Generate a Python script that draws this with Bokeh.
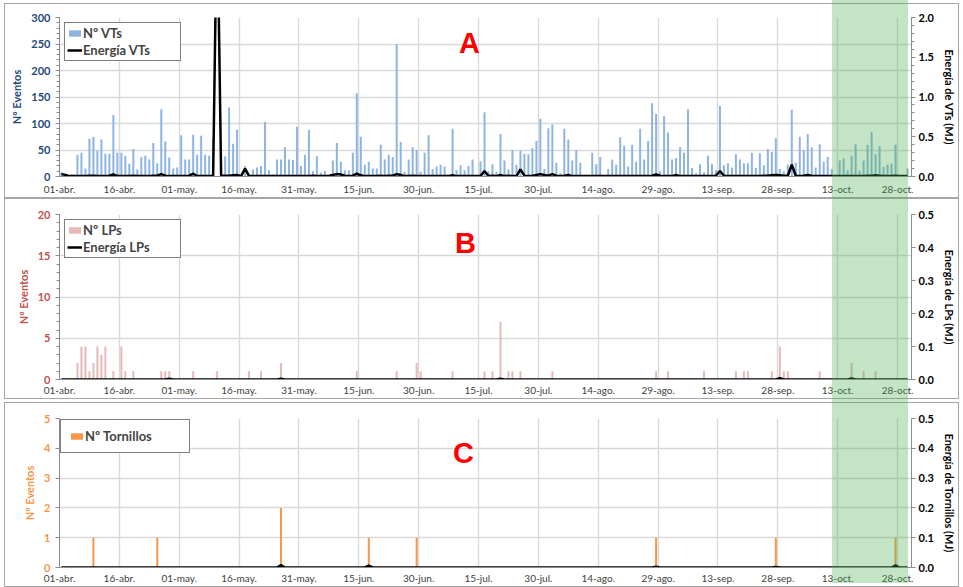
from bokeh.plotting import figure
from bokeh.models import (Range1d, LinearAxis, FixedTicker, Legend, LegendItem,
                          Label, PrintfTickFormatter, Div)
from bokeh.layouts import column
from bokeh.embed import file_html
from bokeh.resources import INLINE

# ---------------- data ----------------
tick_day = [0, 15, 30, 45, 60, 75, 90, 105, 120, 135, 150, 165, 180, 195, 210]
tick_label = ["01-abr.", "16-abr.", "01-may.", "16-may.", "31-may.", "15-jun.", "30-jun.",
              "15-jul.", "30-jul.", "14-ago.", "29-ago.", "13-sep.", "28-sep.", "13-oct.", "28-oct."]

# daily number of VT events, from 01-abr
vt_count = [
    8, 0, 0, 4, 41, 45, 15, 71, 75, 49,
    70, 43, 43, 116, 45, 45, 39, 24, 52, 13,
    37, 39, 32, 63, 25, 127, 66, 36, 15, 17,
    78, 32, 32, 79, 41, 77, 41, 39, 72, 0,
    0, 38, 130, 62, 88, 0, 20, 3, 13, 17,
    20, 103, 12, 4, 32, 32, 55, 32, 31, 94,
    20, 41, 88, 10, 38, 7, 11, 0, 30, 63,
    28, 12, 12, 45, 157, 75, 22, 28, 15, 15,
    60, 32, 41, 37, 250, 65, 9, 32, 55, 50,
    9, 45, 78, 14, 19, 22, 19, 4, 90, 12,
    21, 12, 20, 32, 3, 29, 121, 10, 23, 9,
    80, 30, 13, 50, 22, 49, 43, 42, 54, 67,
    109, 14, 91, 98, 26, 6, 90, 70, 30, 50,
    26, 0, 0, 45, 23, 37, 0, 14, 32, 22,
    74, 58, 19, 60, 28, 90, 32, 67, 138, 118,
    10, 114, 83, 32, 35, 55, 45, 127, 16, 6,
    23, 8, 39, 24, 12, 133, 21, 25, 17, 42,
    32, 25, 25, 45, 16, 44, 21, 52, 46, 72,
    14, 10, 22, 126, 26, 75, 50, 80, 55, 17,
    61, 28, 37, 14, 0, 30, 34, 12, 39, 61,
    11, 30, 60, 84, 42, 57, 18, 22, 24, 60,
    0, 0, 15]

# daily VT energy (MJ)
vt_energy_mj = [
    0.03, 0.02, 0.005, 0.005, 0.005, 0.005, 0.005, 0.01, 0.01, 0.005,
    0.005, 0.005, 0.01, 0.025, 0.005, 0.005, 0.005, 0.005, 0.01, 0.005,
    0.005, 0.005, 0.005, 0.01, 0.01, 0.03, 0.01, 0.005, 0.005, 0.005,
    0.005, 0.005, 0.01, 0.035, 0.005, 0.005, 0.005, 0.005, 0.01, 3.5,
    0.01, 0.01, 0.01, 0.015, 0.02, 0.005, 0.10, 0.005, 0.005, 0.005,
    0.005, 0.005, 0.005, 0.005, 0.005, 0.005, 0.005, 0.005, 0.005, 0.005,
    0.005, 0.005, 0.005, 0.01, 0.005, 0.005, 0.005, 0.01, 0.02, 0.03,
    0.025, 0.01, 0.005, 0.01, 0.035, 0.015, 0.005, 0.005, 0.005, 0.005,
    0.01, 0.005, 0.01, 0.01, 0.03, 0.02, 0.005, 0.005, 0.01, 0.005,
    0.005, 0.005, 0.005, 0.005, 0.005, 0.005, 0.005, 0.005, 0.015, 0.005,
    0.005, 0.005, 0.005, 0.005, 0.005, 0.005, 0.07, 0.005, 0.01, 0.005,
    0.02, 0.005, 0.01, 0.005, 0.005, 0.09, 0.01, 0.005, 0.01, 0.02,
    0.03, 0.02, 0.01, 0.03, 0.01, 0.005, 0.01, 0.02, 0.005, 0.005,
    0.005, 0.005, 0.005, 0.005, 0.005, 0.005, 0.005, 0.005, 0.005, 0.005,
    0.005, 0.005, 0.005, 0.005, 0.005, 0.005, 0.005, 0.005, 0.01, 0.025,
    0.01, 0.005, 0.005, 0.005, 0.02, 0.005, 0.005, 0.005, 0.005, 0.005,
    0.005, 0.005, 0.005, 0.005, 0.01, 0.07, 0.01, 0.005, 0.005, 0.005,
    0.005, 0.005, 0.005, 0.005, 0.005, 0.005, 0.01, 0.01, 0.015, 0.02,
    0.015, 0.01, 0.01, 0.15, 0.01, 0.005, 0.01, 0.02, 0.01, 0.005,
    0.005, 0.005, 0.005, 0.005, 0.005, 0.005, 0.005, 0.005, 0.005, 0.005,
    0.005, 0.005, 0.01, 0.01, 0.015, 0.01, 0.005, 0.005, 0.005, 0.01,
    0.005, 0.005, 0.005]

# LP events (day index from 01-abr, count)
lp_day = [4, 5, 6, 7, 8, 9, 10, 11, 13, 15, 16, 18, 25, 26, 27, 33, 39, 47, 50, 55,
          74, 84, 89, 90, 98, 106, 108, 110, 112, 113, 115, 123,
          149, 152, 161, 169, 171, 172, 178, 180, 181, 182, 190, 198, 201, 204]
lp_count = [2, 4, 4, 1, 2, 4, 3, 4, 1, 4, 1, 1, 1, 1, 1, 1, 1, 1, 1, 2,
            1, 1, 2, 1, 1, 1, 1, 7, 1, 1, 1, 1,
            1, 1, 1, 1, 1, 1, 1, 4, 1, 1, 1, 2, 1, 1]
lp_energy_day = [27, 55, 110, 180, 198]
lp_energy_mj = [0.002, 0.002, 0.002, 0.004, 0.003]

# Tornillo events
tor_day = [8, 24, 55, 77, 89, 149, 179, 209]
tor_count = [1, 1, 2, 1, 1, 1, 1, 1]
tor_energy_day = [55, 77, 149, 179, 209]
tor_energy_mj = [0.008, 0.006, 0.003, 0.002, 0.007]

highlight_days = (193.25, 212.25)

# ---------------- helpers ----------------
n_days = len(vt_count)
xs = [d + 0.5 for d in range(n_days)]


def daily(days, vals):
    out = [0.0] * n_days
    for d, v in zip(days, vals):
        out[d] = v
    return out


lp_energy = daily(lp_energy_day, lp_energy_mj)
tor_energy = daily(tor_energy_day, tor_energy_mj)

FONT = "Lato"
OX = 5                 # left offset of the panels on the page
W = 953
BL, BR = 54, 45
FW = W - BL - BR
XMAX = 213.5
GRID = "#D9D9D9"
AXIS = "#8C8C8C"
BORDER = {"outline": "1px solid #A6A6A6", "outline-offset": "0px"}


def make_panel(h, btop, bbot, mtop, ymax, ymajor, yminor, emax, emajor, eminor,
               lcolor, elabel, xstandoff):
    p = figure(width=W, height=h, output_backend="svg", toolbar_location=None,
               x_range=Range1d(0, XMAX), y_range=Range1d(0, ymax),
               min_border_left=BL, min_border_right=BR,
               min_border_top=btop, min_border_bottom=bbot,
               margin=(mtop, 0, 0, OX), styles=BORDER)
    p.outline_line_color = None
    p.extra_y_ranges = {"e": Range1d(0, emax)}

    xt = FixedTicker(ticks=tick_day)
    xa = p.xaxis[0]
    xa.ticker = xt
    xa.major_label_overrides = {t: lab for t, lab in zip(tick_day, tick_label)}
    xa.major_label_text_font = FONT
    xa.major_label_text_font_size = "10px"
    xa.major_label_text_color = "#404040"
    xa.major_label_standoff = xstandoff
    xa.major_tick_out = 0
    xa.major_tick_in = 0
    xa.minor_tick_out = 0
    xa.minor_tick_in = 0
    xa.axis_line_color = AXIS

    yt = FixedTicker(ticks=ymajor, minor_ticks=yminor)
    ya = p.yaxis[0]
    ya.ticker = yt
    ya.axis_label = "Nº Eventos"
    ya.axis_label_text_font = FONT
    ya.axis_label_text_font_style = "bold"
    ya.axis_label_text_font_size = "11px"
    ya.axis_label_text_color = lcolor
    ya.axis_label_standoff = 5
    ya.major_label_text_font = FONT
    ya.major_label_text_font_style = "bold"
    ya.major_label_text_font_size = "11px"
    ya.major_label_text_color = lcolor
    ya.major_label_standoff = 5
    ya.major_tick_out = 4
    ya.major_tick_in = 0
    ya.minor_tick_out = 3
    ya.minor_tick_in = 0
    ya.axis_line_color = AXIS
    ya.major_tick_line_color = AXIS
    ya.minor_tick_line_color = AXIS

    ra = LinearAxis(y_range_name="e",
                    ticker=FixedTicker(ticks=emajor, minor_ticks=eminor),
                    formatter=PrintfTickFormatter(format="%.1f"),
                    axis_label=elabel)
    ra.axis_label_text_font = FONT
    ra.axis_label_text_font_style = "bold"
    ra.axis_label_text_font_size = "11px"
    ra.axis_label_text_color = "black"
    ra.axis_label_standoff = 6
    ra.major_label_text_font = FONT
    ra.major_label_text_font_style = "bold"
    ra.major_label_text_font_size = "11px"
    ra.major_label_text_color = "black"
    ra.major_label_standoff = 3
    ra.major_tick_out = 4
    ra.major_tick_in = 0
    ra.minor_tick_out = 3
    ra.minor_tick_in = 0
    ra.axis_line_color = AXIS
    ra.major_tick_line_color = AXIS
    ra.minor_tick_line_color = AXIS
    p.add_layout(ra, "right")

    p.xgrid.ticker = xt
    p.ygrid.ticker = yt
    p.xgrid.grid_line_color = GRID
    p.ygrid.grid_line_color = GRID
    p.xgrid.grid_line_width = 1.4
    p.ygrid.grid_line_width = 1.4
    return p


def style_legend(lg, pad, lw, margin):
    lg.location = "top_left"
    lg.margin = margin
    lg.padding = pad
    lg.spacing = 1
    lg.border_line_color = "black"
    lg.border_line_width = 1
    lg.background_fill_alpha = 1
    lg.label_text_font = FONT
    lg.label_text_font_style = "bold"
    lg.label_text_font_size = "13px"
    lg.label_height = 15
    lg.label_width = lw
    lg.glyph_width = 15
    lg.glyph_height = 8
    lg.label_standoff = 1


def big_letter(p, letter, x, y):
    p.add_layout(Label(x=x, y=y, text=letter, text_font="Liberation Sans",
                       text_font_style="bold", text_font_size="29px",
                       text_color="#FF0000", text_align="center",
                       text_baseline="alphabetic"))


# ---------------- Panel A: VTs ----------------
pA = make_panel(193, 13, 19, 4, 300, [0, 50, 100, 150, 200, 250, 300],
                list(range(0, 301, 10)),
                2.0, [0.0, 0.5, 1.0, 1.5, 2.0],
                [0.1 * i for i in range(21)],
                "#1F497D", "Energía de VTs (MJ)", 6)
bA = pA.vbar(x=xs, top=vt_count, width=0.5, fill_color="#8DB4E2", line_color=None)
lA = pA.line(xs, vt_energy_mj, y_range_name="e", line_color="black", line_width=2.5)
legA = Legend(items=[LegendItem(label="Nº VTs", renderers=[bA]),
                     LegendItem(label="Energía VTs", renderers=[lA])])
style_legend(legA, 2, 95, 5)
pA.add_layout(legA)
big_letter(pA, "A", 102.75, 251.6)

# ---------------- Panel B: LPs ----------------
pB = make_panel(199, 15, 17, 2, 20, [0, 5, 10, 15, 20], list(range(0, 21)),
                0.5, [0.0, 0.1, 0.2, 0.3, 0.4, 0.5], [],
                "#C0504D", "Energía de LPs (MJ)", 4)
bB = pB.vbar(x=[d + 0.5 for d in lp_day], top=lp_count, width=0.5,
             fill_color="#E6B9B8", line_color=None)
lB = pB.line(xs, lp_energy, y_range_name="e", line_color="black", line_width=2.5)
legB = Legend(items=[LegendItem(label="Nº LPs", renderers=[bB]),
                     LegendItem(label="Energía LPs", renderers=[lB])])
style_legend(legB, 2, 95, 5)
pB.add_layout(legB)
big_letter(pB, "B", 101.75, 16.5)

# ---------------- Panel C: Tornillos ----------------
pC = make_panel(183, 15, 17, 5, 5, [0, 1, 2, 3, 4, 5], [],
                0.5, [0.0, 0.1, 0.2, 0.3, 0.4, 0.5], [],
                "#F79646", "Energía de Tornillos (MJ)", 4)
bC = pC.vbar(x=[d + 0.5 for d in tor_day], top=tor_count, width=0.5,
             fill_color="#F79646", line_color=None)
lC = pC.line(xs, tor_energy, y_range_name="e", line_color="black", line_width=2.5)
legC = Legend(items=[LegendItem(label="Nº Tornillos", renderers=[bC])])
style_legend(legC, 8, 96, 1)
pC.add_layout(legC)
big_letter(pC, "C", 101.25, 3.84)

# highlighted period: a semi-transparent green band laid over all three panels
px_per_day = FW / XMAX
band_left = OX + BL + highlight_days[0] * px_per_day
band_width = (highlight_days[1] - highlight_days[0]) * px_per_day
band = Div(text="", width=int(round(band_width)), height=583, margin=0,
           styles={"position": "absolute", "left": f"{band_left:.0f}px", "top": "0px",
                   "width": f"{band_width:.0f}px", "height": "583px",
                   "margin": "0px",
                   "background-color": "rgba(76,175,80,0.33)",
                   "pointer-events": "none", "z-index": "10"})

layout = column(pA, pB, pC, band, spacing=0, styles={"position": "relative"})
open("out.html", "w").write(file_html(layout, INLINE))
